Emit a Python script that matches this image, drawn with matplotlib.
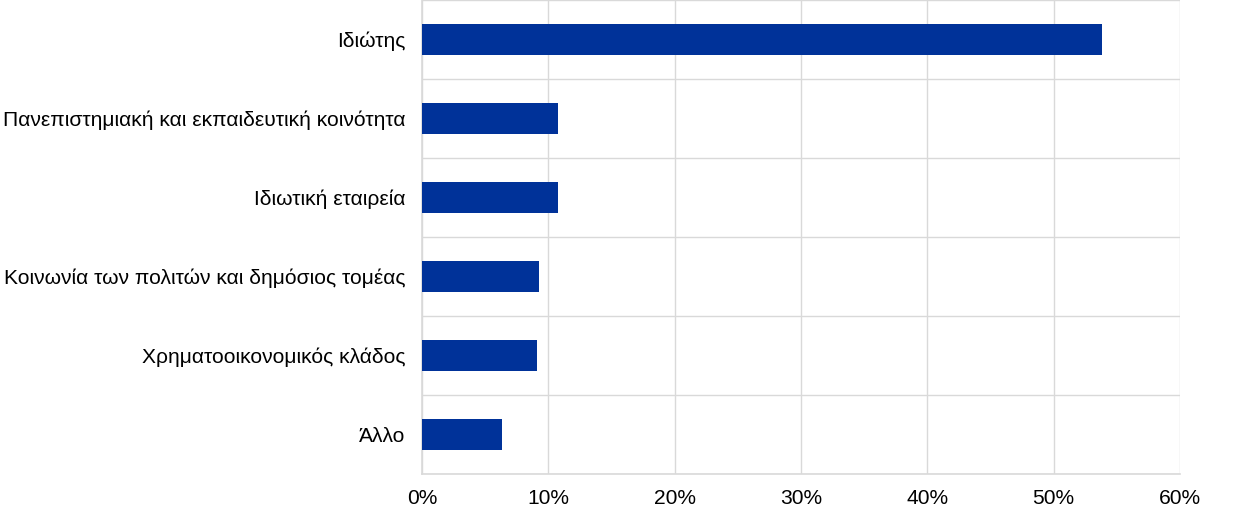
import matplotlib
matplotlib.use("Agg")
import matplotlib.pyplot as plt
import numpy as np

categories = ["Ιδιώτης",
              "Πανεπιστημιακή και εκπαιδευτική κοινότητα",
              "Ιδιωτική εταιρεία",
              "Κοινωνία των πολιτών και δημόσιος τομέας",
              "Χρηματοοικονομικός κλάδος",
              "Άλλο"]
values = [53.8, 10.8, 10.8, 9.3, 9.1, 6.3]
xticks = [0, 10, 20, 30, 40, 50, 60]
xticklabels = ["0%", "10%", "20%", "30%", "40%", "50%", "60%"]

plt.rcParams['font.family'] = ['Liberation Sans', 'DejaVu Sans']

fig = plt.figure(figsize=(12.4, 5.17), dpi=100)
ax = fig.add_axes([422/1240, 43/517, (1180-422)/1240, 474/517])

n = len(categories)
ypos = np.arange(n)[::-1]
ax.barh(ypos, values, height=0.4, color="#003299", zorder=3)

grid_c = "#d9d9d9"
ax.set_xlim(0, 60)
ax.set_ylim(-0.5, n - 0.5)
ax.set_xticks(xticks)
ax.set_xticklabels(xticklabels, fontsize=15.1)
ax.set_yticks(ypos)
ax.set_yticklabels(categories, fontsize=15.1, va='center_baseline')
ax.set_yticks(np.arange(n + 1) - 0.5, minor=True)
ax.tick_params(axis='y', which='both', length=0, pad=12)
ax.tick_params(axis='x', which='both', length=0, pad=11)
ax.grid(axis='x', color=grid_c, linewidth=1, zorder=0)
ax.grid(axis='y', which='minor', color=grid_c, linewidth=1, zorder=0)
ax.grid(axis='y', which='major', visible=False)
for s in ['top', 'right']:
    ax.spines[s].set_visible(False)
for s in ['left', 'bottom']:
    ax.spines[s].set_color(grid_c)
    ax.spines[s].set_linewidth(1.2)

fig.savefig("out.png", dpi=100)
